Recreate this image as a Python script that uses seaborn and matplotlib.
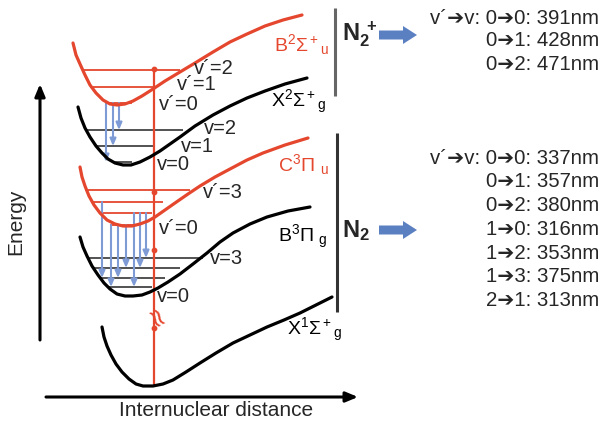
import numpy as np
import pandas as pd
import matplotlib
matplotlib.use("Agg")
import matplotlib.pyplot as plt
import seaborn as sns
from matplotlib.patches import FancyArrow

# ---------------- data (pixel units) ----------------
# potential curves
b2_x = [73, 76, 80, 85, 90, 96, 103, 110, 117, 125, 133, 142, 153, 165, 180, 195, 213, 230, 247, 265, 283, 302]
b2_y = [43, 55, 64, 75, 85, 93, 100, 104, 105, 104, 101, 96, 89, 81, 72, 63, 52, 42, 34, 26, 20, 15]
x2_x = [78, 81, 85, 90, 96, 102, 108, 115, 123, 131, 140, 150, 160, 170, 180, 195, 213, 230, 247, 265, 285, 307]
x2_y = [107, 118, 128, 137, 146, 153, 159, 163, 165, 165, 162, 157, 151, 144, 137, 126, 115, 106, 98, 91, 84, 78]
c3_x = [80, 82, 85, 89, 94, 100, 107, 115, 123, 132, 140, 148, 155, 165, 175, 188, 200, 215, 230, 247, 263, 285, 308]
c3_y = [167, 177, 186, 196, 205, 213, 220, 224, 226, 226, 224, 221, 217, 210, 203, 194, 186, 177, 169, 160, 153, 145, 138]
b3_x = [80, 83, 87, 92, 98, 104, 110, 117, 125, 133, 142, 150, 158, 168, 180, 193, 207, 220, 233, 250, 267, 288, 310]
b3_y = [237, 247, 256, 266, 275, 283, 289, 294, 296, 296, 295, 292, 288, 282, 274, 264, 253, 242, 233, 224, 217, 211, 207]
x1_x = [102, 104, 107, 111, 116, 122, 129, 136, 143, 153, 163, 173, 186, 200, 216, 233, 250, 267, 284, 300, 316, 332]
x1_y = [327, 337, 346, 355, 364, 372, 379, 384, 386, 386, 384, 380, 372, 363, 353, 343, 335, 327, 320, 313, 305, 297]

# vibrational levels (energy, left end, right end)
b2_lev = [103, 87, 70];        b2_l = [105, 90, 82];       b2_r = [132, 155, 180]
x2_lev = [162, 146, 130];      x2_l = [112, 97, 87];       x2_r = [132, 155, 183]
c3_lev = [225, 213, 202, 190]; c3_l = [110, 100, 93, 85];  c3_r = [140, 152, 163, 190]
b3_lev = [287, 278, 268, 258]; b3_l = [108, 100, 93, 87];  b3_r = [152, 165, 180, 203]

# transitions (v_upper, v_lower)
n2p_trans = [(0, 0), (0, 1), (0, 2)]
n2p_tx = [106, 113, 119]
n2_trans = [(2, 1), (0, 0), (0, 1), (0, 2), (1, 0), (1, 2), (1, 3)]
n2_tx = [102, 111, 118, 126, 134, 140, 146]

AR = "\u2794"
n2p_lines = [f"v\u00b4{AR}v: 0{AR}0: 391nm", f"0{AR}1: 428nm", f"0{AR}2: 471nm"]
n2_lines = [f"v\u00b4{AR}v: 0{AR}0: 337nm", f"0{AR}1: 357nm", f"0{AR}2: 380nm",
            f"1{AR}0: 316nm", f"1{AR}2: 353nm", f"1{AR}3: 375nm", f"2{AR}1: 313nm"]

RED = "#e5472e"
BLUE = "#7e9bd6"
BLOCK = "#5b80c2"

sns.set_theme(style="white")
plt.rcParams["font.family"] = ["Liberation Sans", "DejaVu Sans"]
plt.rcParams["mathtext.fontset"] = "custom"
plt.rcParams["mathtext.rm"] = "Liberation Sans"
plt.rcParams["mathtext.it"] = "Liberation Sans"
plt.rcParams["mathtext.bf"] = "Liberation Sans:bold"

fig = plt.figure(figsize=(6.02, 4.22), dpi=100)
ax = fig.add_axes([0, 0, 1, 1])

# level lines
for lev, l, r, c in [(b2_lev, b2_l, b2_r, RED), (c3_lev, c3_l, c3_r, RED),
                     (x2_lev, x2_l, x2_r, "#444444"), (b3_lev, b3_l, b3_r, "#444444")]:
    ax.hlines(lev, l, r, colors=c, lw=1.3, zorder=2)

# red excitation line
ax.vlines([154], 68, 386, colors=RED, lw=1.6, zorder=3)
ax.scatter([154, 154, 154, 154], [69, 192, 250, 328], s=10, color=RED, zorder=4)
ax.text(154, 320, "\u2248", color=RED, fontsize=19, rotation=-60,
        ha="center", va="center", zorder=5, family=["DejaVu Sans"])

# curves
for xs, ys, c in [(b2_x, b2_y, RED), (x2_x, x2_y, "black"), (c3_x, c3_y, RED),
                  (b3_x, b3_y, "black"), (x1_x, x1_y, "black")]:
    df = pd.DataFrame({"x": xs, "y": ys})
    sns.lineplot(data=df, x="x", y="y", color=c, lw=2.3, ax=ax, sort=False,
                 estimator=None, zorder=6)
ax.set_xlim(0, 602)
ax.set_ylim(422, 0)
ax.axis("off")

# transitions
def trans(xs, pairs, up, low):
    for x, (a, b) in zip(xs, pairs):
        ax.annotate("", xy=(x, low[b]), xytext=(x, up[a]),
                    arrowprops=dict(arrowstyle="-|>,head_length=0.35,head_width=0.15",
                                    color=BLUE, lw=1.5, shrinkA=0, shrinkB=0), zorder=5)

trans(n2p_tx, n2p_trans, b2_lev, x2_lev)
trans(n2_tx, n2_trans, c3_lev, b3_lev)

# axes arrows
ax.annotate("", xy=(40, 84), xytext=(40, 340),
            arrowprops=dict(arrowstyle="-|>,head_length=0.6,head_width=0.25",
                            color="black", lw=2.2, shrinkA=0, shrinkB=0))
ax.annotate("", xy=(358, 397), xytext=(46, 397),
            arrowprops=dict(arrowstyle="-|>,head_length=0.6,head_width=0.25",
                            color="black", lw=2.2, shrinkA=0, shrinkB=0))
ax.text(16, 222, "Energy", rotation=90, fontsize=15, ha="center", va="center")
ax.text(216, 411, "Internuclear distance", fontsize=15, ha="center", va="center")

# level labels
lab = dict(fontsize=14.5, va="center", ha="left", zorder=7)
ax.text(194, 69, "v\u00b4=2", **lab)
ax.text(177, 85, "v\u00b4=1", **lab)
ax.text(159, 104, "v\u00b4=0", **lab)
ax.text(204, 128, "v=2", **lab)
ax.text(181, 146, "v=1", **lab)
ax.text(157, 164, "v=0", **lab)
ax.text(203, 193, "v\u00b4=3", **lab)
ax.text(159, 228, "v\u00b4=0", **lab)
ax.text(210, 258, "v=3", **lab)
ax.text(157, 296, "v=0", **lab)

# state labels
st = dict(fontsize=14, va="center", ha="left", zorder=7)
ax.text(274, 45, r"B$^2\Sigma^+{}_\mathrm{u}$", color=RED, **st)
ax.text(271, 102, r"X$^2\Sigma^+{}_\mathrm{g}$", color="black", **st)
ax.text(278, 165, r"C$^3\Pi\ {}_\mathrm{u}$", color=RED, **st)
ax.text(278, 237, r"B$^3\Pi\ {}_\mathrm{g}$", color="black", **st)
ax.text(287, 330, r"X$^1\Sigma^+{}_\mathrm{g}$", color="black", **st)

# separators
ax.vlines([335], 8, 96, colors="#666666", lw=2.2)
ax.vlines([337], 133, 312, colors="#333333", lw=2.2)

# molecule labels + block arrows
ax.text(342, 34, r"$\mathbf{N_2^{\ +}}$", fontsize=17, va="center", ha="left")
ax.text(342, 231, r"$\mathbf{N_2}$", fontsize=17, va="center", ha="left")
for yc in [35, 230]:
    ax.add_patch(FancyArrow(379, yc, 38, 0, width=9, head_width=18, head_length=14,
                            length_includes_head=True, color=BLOCK, lw=0))

# transition wavelength lists
for i, s in enumerate(n2p_lines):
    ax.text(599, 18 + 23 * i, s, fontsize=14.7, ha="right", va="center")
for i, s in enumerate(n2_lines):
    ax.text(599, 158 + 23.8 * i, s, fontsize=14.7, ha="right", va="center")

fig.savefig("out.png", dpi=100)
